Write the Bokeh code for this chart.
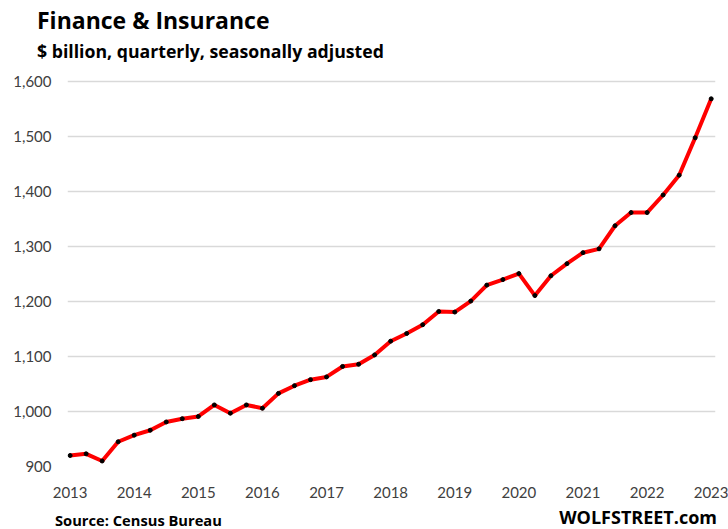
from bokeh.plotting import figure
from bokeh.models import Range1d, FixedTicker, NumeralTickFormatter, ColumnDataSource, Div
from bokeh.layouts import column
from bokeh.embed import file_html
from bokeh.resources import INLINE

years = list(range(2013, 2024))
quarters = [f"{y}Q{q}" for y in range(2013, 2023) for q in range(1, 5)] + ["2023Q1"]
values = [920, 923, 910, 945, 957, 966, 981, 987, 991, 1012,
          997, 1012, 1006, 1033, 1047, 1058, 1063, 1082, 1086, 1103,
          1128, 1142, 1158, 1182, 1181, 1201, 1230, 1240, 1251, 1211,
          1247, 1269, 1289, 1296, 1338, 1362, 1362, 1394, 1430, 1498,
          1569]
y_ticks = [900, 1000, 1100, 1200, 1300, 1400, 1500, 1600]
title_text = "Finance &amp; Insurance"
subtitle_text = "$ billion, quarterly, seasonally adjusted"
source_text = "Source: Census Bureau"
brand_text = "WOLFSTREET.com"

xs = [int(q[:4]) + (int(q[-1]) - 1) / 4 for q in quarters]
src = ColumnDataSource(dict(x=xs, y=values))

FONT = "Lato"
TFONT = "Open Sans"
p = figure(width=728, height=439, output_backend="svg", toolbar_location=None,
           x_range=Range1d(2012.9595, 2023.067), y_range=Range1d(900, 1615),
           min_border_left=67, min_border_right=13, min_border_top=7, min_border_bottom=39)
p.outline_line_color = None
p.background_fill_color = "white"
p.border_fill_color = "white"

p.xgrid.grid_line_color = None
p.ygrid.grid_line_color = "#d9d9d9"
p.ygrid.grid_line_width = 1.3
p.yaxis.ticker = FixedTicker(ticks=y_ticks)
p.xaxis.ticker = FixedTicker(ticks=years)
p.yaxis.formatter = NumeralTickFormatter(format="0,0")
for ax in (p.xaxis, p.yaxis):
    ax.axis_line_color = None
    ax.major_tick_line_color = None
    ax.minor_tick_line_color = None
    ax.major_label_text_font = FONT
    ax.major_label_text_font_size = "15px"
    ax.major_label_text_color = "#404040"
p.yaxis.major_label_standoff = 10
p.xaxis.major_label_standoff = 14

p.line("x", "y", source=src, line_color="#ff0000", line_width=4, line_join="round")
p.scatter("x", "y", source=src, size=4, fill_color="black", line_color="black")

header = Div(width=728, height=66, margin=0, text=(
    f"<div style='position:relative;width:728px;height:66px;font-family:\"{TFONT}\";font-weight:bold;color:black;'>"
    f"<span style='position:absolute;left:37px;top:4px;font-size:23px;white-space:nowrap;'>{title_text}</span>"
    f"<span style='position:absolute;left:37px;top:39px;font-size:17.7px;white-space:nowrap;'>{subtitle_text}</span>"
    "</div>"))

footer = Div(width=728, height=24, margin=0, text=(
    f"<div style='position:relative;width:728px;height:24px;font-family:\"{TFONT}\";font-weight:bold;color:black;'>"
    f"<span style='position:absolute;left:55px;top:5px;font-size:14.7px;white-space:nowrap;'>{source_text}</span>"
    f"<span style='position:absolute;right:11px;top:0px;font-size:18px;white-space:nowrap;'>{brand_text}</span>"
    "</div>"))

layout = column(header, p, footer, spacing=0)
open("out.html", "w").write(file_html(layout, INLINE))
